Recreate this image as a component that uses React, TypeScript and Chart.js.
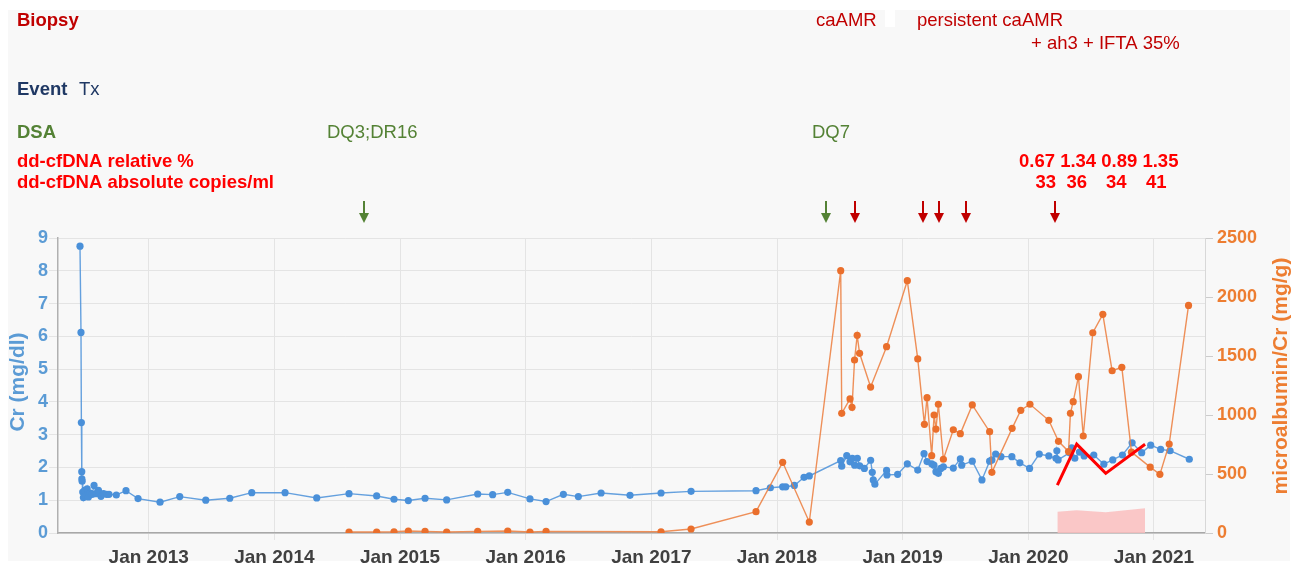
import { useEffect, useRef } from "react";
import { Chart, registerables } from "chart.js";

Chart.register(...registerables);

// ---- Data (x values are decimal years) ----
const crYears = [
  2012.453, 2012.461, 2012.464, 2012.467, 2012.468, 2012.47, 2012.475, 2012.48, 2012.49, 2012.5,
  2012.51, 2012.52, 2012.535, 2012.55, 2012.565, 2012.58, 2012.6, 2012.62, 2012.64, 2012.665,
  2012.684, 2012.742, 2012.819, 2012.915, 2013.09, 2013.247, 2013.454, 2013.645, 2013.82, 2014.085,
  2014.337, 2014.594, 2014.814, 2014.952, 2015.066, 2015.199, 2015.371, 2015.618, 2015.737, 2015.857,
  2016.034, 2016.162, 2016.3, 2016.419, 2016.6, 2016.83, 2017.077, 2017.316, 2017.833, 2017.947,
  2018.045, 2018.07, 2018.138, 2018.215, 2018.257, 2018.507, 2018.515, 2018.555, 2018.581, 2018.599,
  2018.618, 2018.639, 2018.658, 2018.695, 2018.745, 2018.758, 2018.766, 2018.779, 2018.872, 2018.875,
  2018.96, 2019.037, 2019.12, 2019.17, 2019.194, 2019.231, 2019.249, 2019.265, 2019.284, 2019.303,
  2019.324, 2019.403, 2019.459, 2019.47, 2019.554, 2019.631, 2019.692, 2019.71, 2019.74, 2019.782,
  2019.869, 2019.933, 2020.01, 2020.087, 2020.163, 2020.22, 2020.227, 2020.237, 2020.33, 2020.345,
  2020.37, 2020.407, 2020.444, 2020.521, 2020.601, 2020.672, 2020.749, 2020.826, 2020.902, 2020.974,
  2021.053, 2021.128, 2021.281,
];
const crValues = [
  8.75, 6.12, 3.37, 1.87, 1.65, 1.58, 1.25, 1.08, 1.3, 1.12,
  1.35, 1.1, 1.22, 1.18, 1.45, 1.2, 1.3, 1.12, 1.2, 1.18,
  1.18, 1.16, 1.29, 1.05, 0.94, 1.11, 1.0, 1.06, 1.23, 1.23,
  1.07, 1.2, 1.13, 1.03, 0.99, 1.06, 1.01, 1.19, 1.17, 1.24,
  1.04, 0.96, 1.18, 1.11, 1.22, 1.15, 1.22, 1.27, 1.29, 1.38,
  1.41, 1.41, 1.45, 1.7, 1.74, 2.21, 2.04, 2.36, 2.17, 2.28,
  2.07, 2.28, 2.05, 1.97, 2.22, 1.85, 1.62, 1.49, 1.91, 1.77,
  1.79, 2.11, 1.92, 2.42, 2.18, 2.11, 2.07, 1.87, 1.82, 1.97,
  2.02, 1.98, 2.26, 2.07, 2.19, 1.62, 2.19, 2.23, 2.41, 2.33,
  2.33, 2.14, 1.97, 2.41, 2.35, 2.28, 2.51, 2.23, 2.45, 2.6,
  2.28, 2.47, 2.35, 2.38, 2.1, 2.23, 2.38, 2.75, 2.45, 2.68,
  2.55, 2.51, 2.25,
];

const albYears = [
  2014.594, 2014.814, 2014.952, 2015.066, 2015.199, 2015.371, 2015.618, 2015.857, 2016.034, 2016.162,
  2017.077, 2017.316, 2017.833, 2018.045, 2018.257, 2018.507, 2018.515, 2018.581, 2018.597, 2018.617,
  2018.638, 2018.657, 2018.745, 2018.872, 2019.037, 2019.12, 2019.173, 2019.194, 2019.231, 2019.25,
  2019.265, 2019.284, 2019.324, 2019.403, 2019.459, 2019.554, 2019.692, 2019.71, 2019.871, 2019.94,
  2020.013, 2020.163, 2020.24, 2020.32, 2020.335, 2020.357, 2020.399, 2020.437, 2020.513, 2020.593,
  2020.667, 2020.744, 2020.821, 2020.97, 2021.047, 2021.121, 2021.275,
];
const albValues = [
  8, 8, 10, 17, 14, 8, 14, 17, 8, 14,
  10, 34, 181, 599, 93, 2223, 1014, 1136, 1065, 1466,
  1675, 1523, 1237, 1579, 2138, 1475, 921, 1147, 655, 1000,
  881, 1091, 625, 875, 842, 1085, 859, 514, 887, 1040,
  1091, 955, 777, 690, 1014, 1113, 1325, 822, 1697, 1853,
  1375, 1404, 685, 558, 497, 754, 1929,
];

const cfdnaYears = [2020.231, 2020.385, 2020.616, 2020.929];
const cfdnaRelLine = [1.46, 2.71, 1.82, 2.71];
const cfdnaAbsArea = [180, 192, 176, 210];
const cfdnaRelLabels = ["0.67", "1.34", "0.89", "1.35"];
const cfdnaAbsLabels = ["33", "36", "34", "41"];

const dsaArrowYears = [2014.714, 2018.39];
const biopsyArrowYears = [2018.621, 2019.162, 2019.289, 2019.504, 2020.213];

const yearTicks = [2013, 2014, 2015, 2016, 2017, 2018, 2019, 2020, 2021];
const crTicks = [0, 1, 2, 3, 4, 5, 6, 7, 8, 9];
const albTicks = [0, 500, 1000, 1500, 2000, 2500];

const X_MIN = 2012.278;
const X_MAX = 2021.406;

const W = 1303;
const H = 569;
const FONT = '"Liberation Sans", Arial, Helvetica, sans-serif';

const BLUE = "#4a90d9";
const ORANGE = "#ea6f2c";

function drawText(
  ctx: CanvasRenderingContext2D,
  s: string,
  x: number,
  y: number,
  bold: boolean,
  color: string,
  size = 18.5
) {
  ctx.font = `${bold ? "bold " : ""}${size}px ${FONT}`;
  ctx.fillStyle = color;
  ctx.textAlign = "left";
  ctx.textBaseline = "alphabetic";
  ctx.fillText(s, x, y);
}

function drawArrow(ctx: CanvasRenderingContext2D, x: number, color: string) {
  ctx.strokeStyle = color;
  ctx.fillStyle = color;
  ctx.lineWidth = 2;
  ctx.beginPath();
  ctx.moveTo(x, 201);
  ctx.lineTo(x, 218);
  ctx.stroke();
  ctx.beginPath();
  ctx.moveTo(x - 5, 213);
  ctx.lineTo(x + 5, 213);
  ctx.lineTo(x, 223);
  ctx.closePath();
  ctx.fill();
}

const overlayPlugin = {
  id: "overlay",
  beforeDraw(chart: any) {
    const ctx: CanvasRenderingContext2D = chart.ctx;
    ctx.save();
    ctx.fillStyle = "#ffffff";
    ctx.fillRect(0, 0, W, H);
    ctx.fillStyle = "#f8f8f8";
    ctx.fillRect(8, 10, 1282, 551);
    ctx.fillStyle = "#ffffff";
    ctx.fillRect(885, 10, 10, 17);
    ctx.restore();
  },
  afterDraw(chart: any) {
    const ctx: CanvasRenderingContext2D = chart.ctx;
    const xs = chart.scales.x;
    ctx.save();
    const DARKRED = "#c00000";
    const NAVY = "#1f3864";
    const GREEN = "#548235";
    const RED = "#ff0000";

    drawText(ctx, "Biopsy", 17, 26, true, DARKRED);
    drawText(ctx, "caAMR", 816, 26, false, DARKRED);
    drawText(ctx, "persistent caAMR", 917, 26, false, DARKRED);
    drawText(ctx, "+ ah3 + IFTA 35%", 1031, 48.5, false, DARKRED);

    drawText(ctx, "Event", 17, 94.5, true, NAVY);
    drawText(ctx, "Tx", 79, 94.5, false, NAVY);

    drawText(ctx, "DSA", 17, 138, true, GREEN);
    drawText(ctx, "DQ3;DR16", 327, 138, false, GREEN);
    drawText(ctx, "DQ7", 812, 138, false, GREEN);

    drawText(ctx, "dd-cfDNA relative %", 17, 166.5, true, RED);
    drawText(ctx, "dd-cfDNA absolute copies/ml", 17, 188, true, RED);
    drawText(ctx, cfdnaRelLabels.join(" "), 1019, 166.5, true, RED);
    const absX = [1035.5, 1066.5, 1106, 1146];
    cfdnaAbsLabels.forEach((s, i) => drawText(ctx, s, absX[i], 188, true, RED));

    dsaArrowYears.forEach((y) => drawArrow(ctx, Math.round(xs.getPixelForValue(y)), GREEN));
    biopsyArrowYears.forEach((y) => drawArrow(ctx, Math.round(xs.getPixelForValue(y)), DARKRED));

    // axis titles (both read bottom-to-top)
    ctx.font = `bold 21px ${FONT}`;
    ctx.textAlign = "center";
    ctx.textBaseline = "middle";
    ctx.save();
    ctx.translate(18, 382);
    ctx.rotate(-Math.PI / 2);
    ctx.fillStyle = "#5b9bd5";
    ctx.fillText("Cr (mg/dl)", 0, 0);
    ctx.restore();
    ctx.save();
    ctx.translate(1281, 376);
    ctx.rotate(-Math.PI / 2);
    ctx.fillStyle = "#ed7d31";
    ctx.fillText("microalbumin/Cr (mg/g)", 0, 0);
    ctx.restore();

    ctx.restore();
  },
};

export default function App() {
  const ref = useRef<HTMLCanvasElement>(null);

  useEffect(() => {
    if (!ref.current) return;
    const crData = crYears.map((x, i) => ({ x, y: crValues[i] }));
    const albData = albYears.map((x, i) => ({ x, y: albValues[i] }));
    const relData = cfdnaYears.map((x, i) => ({ x, y: cfdnaRelLine[i] }));
    const absData = cfdnaYears.map((x, i) => ({ x, y: cfdnaAbsArea[i] }));

    const chart = new Chart(ref.current, {
      type: "line",
      data: {
        datasets: [
          {
            label: "dd-cfDNA relative",
            data: relData,
            yAxisID: "y",
            borderColor: "#ff0000",
            borderWidth: 3,
            pointRadius: 0,
            fill: false,
            order: 0,
          },
          {
            label: "microalbumin/Cr",
            data: albData,
            yAxisID: "y1",
            borderColor: "rgba(236,125,60,0.85)",
            backgroundColor: ORANGE,
            borderWidth: 1.4,
            pointRadius: 3.6,
            pointBackgroundColor: ORANGE,
            pointBorderWidth: 0,
            fill: false,
            order: 1,
          },
          {
            label: "Cr",
            data: crData,
            yAxisID: "y",
            borderColor: "rgba(74,144,217,0.85)",
            backgroundColor: BLUE,
            borderWidth: 1.4,
            pointRadius: 3.6,
            pointBackgroundColor: BLUE,
            pointBorderWidth: 0,
            fill: false,
            order: 2,
          },
          {
            label: "dd-cfDNA absolute",
            data: absData,
            yAxisID: "y1",
            borderWidth: 0,
            borderColor: "rgba(0,0,0,0)",
            backgroundColor: "rgba(250,190,190,0.85)",
            pointRadius: 0,
            fill: "origin",
            order: 3,
          },
        ],
      },
      options: {
        animation: false,
        responsive: false,
        devicePixelRatio: 1,
        layout: { padding: { left: 0, right: 8, top: 238, bottom: 0 } },
        plugins: {
          legend: { display: false },
          tooltip: { enabled: false },
        },
        scales: {
          x: {
            type: "linear",
            min: X_MIN,
            max: X_MAX,
            afterBuildTicks: (scale: any) => {
              scale.ticks = yearTicks.map((v) => ({ value: v }));
            },
            afterFit: (scale: any) => {
              scale.height = 36;
            },
            grid: { color: "#e4e4e4", tickLength: 7, lineWidth: 1 },
            border: { display: true, color: "#a8a8a8", width: 1.5 },
            ticks: {
              autoSkip: false,
              maxRotation: 0,
              padding: 6,
              color: "#404040",
              font: { family: FONT, size: 19, weight: "bold" },
              callback: (v: any) => "Jan " + v,
            },
          },
          y: {
            position: "left",
            min: 0,
            max: 9,
            afterBuildTicks: (scale: any) => {
              scale.ticks = crTicks.map((v) => ({ value: v }));
            },
            afterFit: (scale: any) => {
              scale.width = 58;
            },
            grid: { color: "#e4e4e4", tickLength: 9 },
            border: { display: true, color: "#b0b0b0", width: 1.5 },
            ticks: {
              padding: 1,
              color: "#5b9bd5",
              font: { family: FONT, size: 18, weight: "bold" },
              callback: (v: any) => String(v),
            },
            title: { display: false },
          },
          y1: {
            position: "right",
            min: 0,
            max: 2500,
            afterBuildTicks: (scale: any) => {
              scale.ticks = albTicks.map((v) => ({ value: v }));
            },
            afterFit: (scale: any) => {
              scale.width = 90;
            },
            grid: { drawOnChartArea: false, color: "#cccccc", tickLength: 8 },
            border: { display: true, color: "#d8d8d8", width: 1 },
            ticks: {
              padding: 4,
              color: "#ed7d31",
              font: { family: FONT, size: 18, weight: "bold" },
              callback: (v: any) => String(v),
            },
            title: { display: false },
          },
        },
      },
      plugins: [overlayPlugin],
    } as any);

    return () => chart.destroy();
  }, []);

  return (
    <div style={{ position: "absolute", left: 0, top: 0, width: W, height: H }}>
      <canvas ref={ref} width={W} height={H} style={{ display: "block", width: W, height: H }} />
    </div>
  );
}
